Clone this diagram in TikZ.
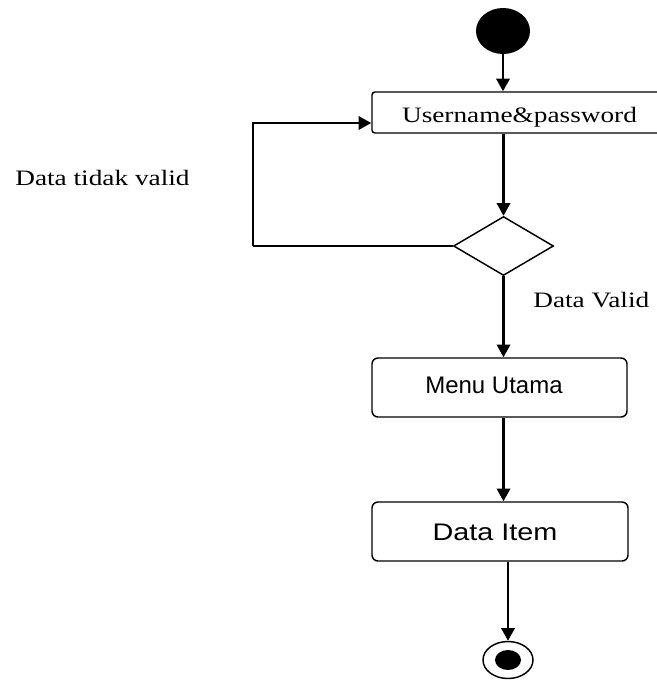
\documentclass[tikz,border=0pt]{standalone}
\usepackage{fontspec}
\setmainfont{Liberation Serif}
\newfontfamily\arialfont{Liberation Sans}
\usetikzlibrary{shapes.geometric,arrows.meta}
\newlength\px
\setlength\px{0.75pt}
\tikzset{
  arr/.style={line width=1.8pt,-{Triangle[length=9.5pt,width=10pt]}},
  flow/.style={line width=1.8pt},
  boxshape/.style={draw,line width=1.1pt,rectangle,inner sep=0pt},
  sertxt/.style={font=\fontsize{16.5}{20}\selectfont,xscale=1.24,inner sep=0pt},
  santxt/.style={font=\arialfont\fontsize{18}{22}\selectfont,inner sep=0pt},
}
\begin{document}
\begin{tikzpicture}[x=0.75pt,y=-0.75pt]
\clip (0,0) rectangle (657,682);
\fill[white] (0,0) rectangle (657,682);
% start
\node[ellipse,fill=black,minimum width=54\px,minimum height=46\px,inner sep=0pt] (start) at (503,31) {};
% username box
\node[boxshape,rounded corners=3\px,minimum width=295\px,minimum height=41\px] (user) at (519.5,112.5) {};
\node[sertxt,anchor=base] (usertxt) at (519.5,122) {Username\&password};
% decision
\node[diamond,draw,line width=1.1pt,minimum width=100\px,minimum height=59\px,inner sep=0pt] (dec) at (503.5,246) {};
% menu utama
\node[boxshape,rounded corners=6\px,minimum width=255\px,minimum height=59\px] (menu) at (499.5,387.5) {};
\node[santxt,anchor=base] (menutxt) at (494,393) {Menu Utama};
% data item
\node[boxshape,rounded corners=6\px,minimum width=256\px,minimum height=59\px] (item) at (500,531.5) {};
\node[santxt,xscale=1.2,anchor=base] (itemtxt) at (495,540) {Data Item};
% end
\node[ellipse,draw,line width=1.1pt,minimum width=50\px,minimum height=37\px,inner sep=0pt] (endo) at (508,660) {};
\node[ellipse,fill=black,minimum width=26\px,minimum height=20\px,inner sep=0pt] (endi) at (endo.center) {};
% labels
\node[sertxt,anchor=base west] (notvalid) at (15,185) {Data tidak valid};
\node[sertxt,anchor=base west] (valid) at (533,307) {Data Valid};
% connectors
\coordinate (loopc) at (253,123);
\draw[arr] (start.south) -- (start.south |- user.north);
\draw[arr] (dec.north |- user.south) -- (dec.north);
\draw[flow] (dec.west) -- (dec.west -| loopc);
\draw[arr] (dec.west -| loopc) -- (loopc) -- (loopc -| user.west);
\draw[arr] (dec.south) -- (dec.south |- menu.north);
\draw[arr] (dec.south |- menu.south) -- (dec.south |- item.north);
\draw[arr] (endo.north |- item.south) -- (endo.north);
\end{tikzpicture}
\end{document}
